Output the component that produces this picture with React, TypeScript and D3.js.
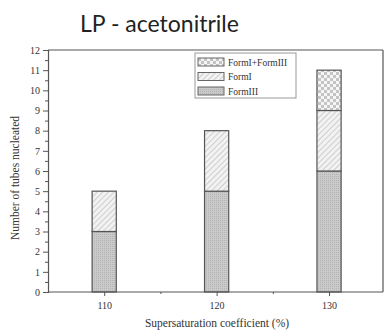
import { useEffect, useRef } from 'react';
import * as d3 from 'd3';

const categories = [110, 120, 130];
const formIII = [3, 5, 6];
const formI = [2, 3, 3];
const formIAndIII = [0, 0, 2];
const seriesNames = ['FormIII', 'FormI', 'FormI+FormIII'];
const yTicks = [0, 1, 2, 3, 4, 5, 6, 7, 8, 9, 10, 11, 12];

export default function App() {
  const ref = useRef<SVGSVGElement | null>(null);

  useEffect(() => {
    const svg = d3.select(ref.current);
    svg.selectAll('*').remove();

    const width = 384;
    const height = 331;
    const left = 48;
    const right = 383;
    const top = 50;
    const bottom = 292;
    const serif = '"Liberation Serif", "Times New Roman", serif';
    const axisColor = '#555';
    const textColor = '#333';

    svg.attr('width', width).attr('height', height).style('display', 'block');

    // fill patterns for the three forms
    const defs = svg.append('defs');
    const dots = defs.append('pattern').attr('id', 'p-dots').attr('patternUnits', 'userSpaceOnUse').attr('width', 2).attr('height', 2);
    dots.append('rect').attr('width', 2).attr('height', 2).attr('fill', '#cacaca');
    dots.append('rect').attr('width', 1).attr('height', 1).attr('fill', '#b4b4b4');

    const hatch = defs.append('pattern').attr('id', 'p-hatch').attr('patternUnits', 'userSpaceOnUse').attr('width', 4).attr('height', 4).attr('patternTransform', 'rotate(45)');
    hatch.append('rect').attr('width', 4).attr('height', 4).attr('fill', '#f2f2f2');
    hatch.append('line').attr('x1', 0).attr('y1', 0).attr('x2', 0).attr('y2', 4).attr('stroke', '#bbbbbb').attr('stroke-width', 1.3);

    const check = defs.append('pattern').attr('id', 'p-check').attr('patternUnits', 'userSpaceOnUse').attr('width', 6).attr('height', 6);
    check.append('rect').attr('width', 6).attr('height', 6).attr('fill', '#f6f6f6');
    check.append('rect').attr('width', 3).attr('height', 3).attr('fill', '#c4c4c4');
    check.append('rect').attr('x', 3).attr('y', 3).attr('width', 3).attr('height', 3).attr('fill', '#c4c4c4');

    const fills = ['url(#p-dots)', 'url(#p-hatch)', 'url(#p-check)'];

    const x = d3.scaleLinear().domain([105, 134.8]).range([left, right]);
    const y = d3.scaleLinear().domain([0, 12]).range([bottom, top]);
    const barW = x(2.15) - x(0);

    // title
    svg.append('text')
      .attr('x', 80).attr('y', 32)
      .attr('font-family', 'Lato, "Open Sans", sans-serif')
      .attr('font-size', 23)
      .attr('fill', '#222')
      .text('LP - acetonitrile');

    // frame (top and right)
    svg.append('line').attr('x1', left).attr('x2', right).attr('y1', top).attr('y2', top).attr('stroke', axisColor).attr('stroke-width', 1.2);
    svg.append('line').attr('x1', right).attr('x2', right).attr('y1', top).attr('y2', bottom).attr('stroke', axisColor).attr('stroke-width', 1.2);

    // stacked bars
    const rows = categories.map((c, i) => ({ cat: c, FormIII: formIII[i], FormI: formI[i], 'FormI+FormIII': formIAndIII[i] }));
    const stacked = d3.stack<any>().keys(seriesNames)(rows);
    stacked.forEach((layer, li) => {
      svg.append('g').selectAll('rect')
        .data(layer.filter((d) => d[1] > d[0]))
        .join('rect')
        .attr('x', (d) => x(d.data.cat) - barW / 2)
        .attr('y', (d) => y(d[1]))
        .attr('width', barW)
        .attr('height', (d) => y(d[0]) - y(d[1]))
        .attr('fill', fills[li])
        .attr('stroke', '#555')
        .attr('stroke-width', 1.2);
    });

    // y axis
    const yAxis = d3.axisLeft(y).tickValues(yTicks).tickSize(5).tickPadding(3).tickFormat(d3.format('d'));
    const gy = svg.append('g').attr('transform', `translate(${left},0)`).call(yAxis);
    gy.select('.domain').attr('stroke', axisColor).attr('stroke-width', 1.2);
    gy.selectAll('.tick line').attr('stroke', axisColor);
    gy.selectAll('.tick text').attr('font-family', serif).attr('font-size', 10).attr('fill', textColor);
    const yMinor = d3.axisLeft(y).tickValues(d3.range(0.5, 12, 1)).tickSize(3).tickFormat(() => '');
    const gym = svg.append('g').attr('transform', `translate(${left},0)`).call(yMinor);
    gym.select('.domain').remove();
    gym.selectAll('.tick line').attr('stroke', axisColor);

    // x axis
    const xAxis = d3.axisBottom(x).tickValues(categories).tickSize(4).tickPadding(6).tickFormat(d3.format('d'));
    const gx = svg.append('g').attr('transform', `translate(0,${bottom})`).call(xAxis);
    gx.select('.domain').attr('stroke', axisColor).attr('stroke-width', 1.2).attr('d', `M${left},0H${right}`);
    gx.selectAll('.tick line').attr('stroke', axisColor);
    gx.selectAll('.tick text').attr('font-family', serif).attr('font-size', 10).attr('fill', textColor);
    const xMinor = d3.axisBottom(x).tickValues([115, 125]).tickSize(2).tickFormat(() => '');
    const gxm = svg.append('g').attr('transform', `translate(0,${bottom})`).call(xMinor);
    gxm.select('.domain').remove();
    gxm.selectAll('.tick line').attr('stroke', axisColor);

    // axis titles
    svg.append('text')
      .attr('x', 217).attr('y', 327)
      .attr('text-anchor', 'middle')
      .attr('font-family', serif).attr('font-size', 11.5).attr('fill', textColor)
      .text('Supersaturation coefficient (%)');
    svg.append('text')
      .attr('transform', `translate(19,178) rotate(-90)`)
      .attr('text-anchor', 'middle')
      .attr('font-family', serif).attr('font-size', 11.5).attr('fill', textColor)
      .text('Number of tubes nucleated');

    // legend
    const lg = svg.append('g').attr('transform', 'translate(195,53)');
    lg.append('rect').attr('width', 101).attr('height', 45).attr('fill', 'white').attr('stroke', '#999').attr('stroke-width', 1);
    const legendOrder = [2, 1, 0];
    legendOrder.forEach((si, i) => {
      const row = lg.append('g').attr('transform', `translate(3,${5 + i * 14.5})`);
      row.append('rect').attr('width', 26).attr('height', 8).attr('fill', fills[si]).attr('stroke', '#666').attr('stroke-width', 1);
      row.append('text').attr('x', 30).attr('y', 7.5)
        .attr('font-family', serif).attr('font-size', 9.5).attr('fill', textColor)
        .text(seriesNames[si]);
    });
  }, []);

  return <svg ref={ref} style={{ position: 'absolute', left: 0, top: 0 }} />;
}
